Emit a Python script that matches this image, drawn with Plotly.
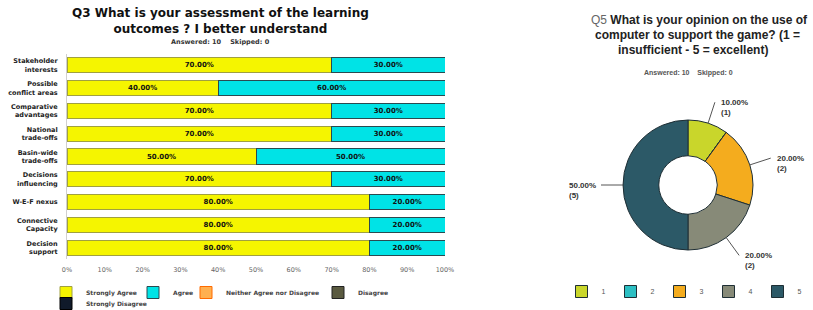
import math
import plotly.graph_objects as go

W, H = 813, 310


def px(x):
    return x / W


def py(y):
    return 1 - y / H


categories = ["Stakeholder<br>interests", "Possible<br>conflict areas", "Comparative<br>advantages",
              "National<br>trade-offs", "Basin-wide<br>trade-offs", "Decisions<br>influencing",
              "W-E-F nexus", "Connective<br>Capacity", "Decision<br>support"]
strongly_agree = [70, 40, 70, 70, 50, 70, 80, 80, 80]
agree = [30, 60, 30, 30, 50, 30, 20, 20, 20]
neither = [0, 0, 0, 0, 0, 0, 0, 0, 0]
disagree = [0, 0, 0, 0, 0, 0, 0, 0, 0]
strongly_disagree = [0, 0, 0, 0, 0, 0, 0, 0, 0]
x_ticks = [0, 10, 20, 30, 40, 50, 60, 70, 80, 90, 100]

pie_labels = ["1", "2", "3", "4", "5"]
pie_counts = [1, 0, 2, 2, 5]
pie_colors = ["#c9d62b", "#2cbfc3", "#f4ac1e", "#878a78", "#2c5967"]

BARFONT = "DejaVu Sans"
PIEFONT = "Liberation Sans"

fig = go.Figure()

series = [
    ("Strongly Agree", strongly_agree, "#f5f500", "#a0a040", "legend"),
    ("Agree", agree, "#00e3e6", "#2a4a50", "legend2"),
    ("Neither Agree nor Disagree", neither, "#ffb050", "#ff6a00", "legend4"),
    ("Disagree", disagree, "#5a5a40", "#222222", "legend5"),
    ("Strongly Disagree", strongly_disagree, "#101a2a", "#000000", "legend6"),
]
for name, vals, col, lc, lg in series:
    fig.add_trace(go.Bar(
        y=categories, x=vals, name=name, orientation="h",
        marker=dict(color=col, line=dict(color=lc, width=1)),
        text=[f"{v:.2f}%" if v > 0 else "" for v in vals],
        textposition="inside", insidetextanchor="middle", textangle=0,
        textfont=dict(family=BARFONT, size=7, color="#111111", weight="bold"),
        legend=lg, hoverinfo="skip",
    ))

# donut geometry (page pixels)
CX, CY, R = 688, 185, 65
total = sum(pie_counts)
fig.add_trace(go.Pie(
    labels=pie_labels, values=pie_counts, sort=False, direction="clockwise", rotation=0,
    hole=0.45,
    marker=dict(colors=pie_colors, line=dict(color="#1e2e34", width=1)),
    textinfo="none",
    domain=dict(x=[px(CX - R), px(CX + R)], y=[py(CY + R), py(CY - R)]),
    legend="legend3", showlegend=True, hoverinfo="label+percent",
))

legend_font = dict(family=BARFONT, size=6, color="#444444", weight="bold")


def bar_legend(x_swatch, y_top):
    return dict(orientation="h", x=px(x_swatch - 19), y=py(y_top), xanchor="left",
                yanchor="top", font=legend_font, bgcolor="rgba(0,0,0,0)")


fig.update_layout(
    width=W, height=H, margin=dict(l=0, r=0, t=0, b=0, autoexpand=False),
    paper_bgcolor="white", plot_bgcolor="white",
    barmode="stack", bargap=0.34,
    font=dict(family=BARFONT, color="#222222"),
    xaxis=dict(domain=[px(67), px(445)], range=[0, 100], tickvals=x_ticks,
               ticktext=[f"{t}%" for t in x_ticks], showgrid=False, zeroline=False,
               tickfont=dict(family=BARFONT, size=6.5, color="#666666"), ticks="",
               automargin=False, showline=False, fixedrange=True, ticklabelstandoff=5),
    yaxis=dict(domain=[py(259), py(54)], autorange="reversed", showgrid=False,
               tickfont=dict(family=BARFONT, size=6.5, color="#222222", weight="bold"),
               ticks="", automargin=False,
               showline=True, linecolor="#d0d0d0", linewidth=1, ticklabelstandoff=7),
    legend=bar_legend(65, 278),
    legend2=bar_legend(152, 278),
    legend4=bar_legend(205, 278),
    legend5=bar_legend(337, 278),
    legend6=bar_legend(65, 289),
    legend3=dict(orientation="h", x=px(684), y=py(277), xanchor="center", yanchor="top",
                 font=dict(family=PIEFONT, size=7, color="#555555"), bgcolor="rgba(0,0,0,0)"),
    showlegend=True,
)

annotations = [
    dict(text="<b>Q3 What is your assessment of the learning<br>outcomes ? I better understand</b>",
         x=px(220), y=py(21), font=dict(family=BARFONT, size=12, color="#111111")),
    dict(text="<b>Answered: 10    Skipped: 0</b>", x=px(220), y=py(42),
         font=dict(family=BARFONT, size=6.5, color="#333333")),
    dict(text="<span style='color:#666666'>Q5</span> <b>What is your opinion on the use of</b>",
         x=px(699), y=py(20), font=dict(family=PIEFONT, size=12, color="#222222")),
    dict(text="<b>computer to support the game? (1 =</b>",
         x=px(697), y=py(35), font=dict(family=PIEFONT, size=12, color="#222222")),
    dict(text="<b>insufficient - 5 = excellent)</b>",
         x=px(693), y=py(50), font=dict(family=PIEFONT, size=12, color="#222222")),
    dict(text="<b>Answered: 10    Skipped: 0</b>", x=px(688), y=py(73),
         font=dict(family=PIEFONT, size=7, color="#555555")),
]
for a in annotations:
    a.update(xref="paper", yref="paper", showarrow=False, xanchor="center", yanchor="middle")

# outside labels with leader lines, placed at each slice's mid-angle
shapes = []
cum = 0
LEAD = 22
for lab, c in zip(pie_labels, pie_counts):
    if c == 0:
        continue
    mid = (cum + c / 2) / total * 2 * math.pi
    cum += c
    sx, sy = CX + R * math.sin(mid), CY - R * math.cos(mid)
    ex, ey = CX + (R + LEAD) * math.sin(mid), CY - (R + LEAD) * math.cos(mid)
    shapes.append(dict(type="line", xref="paper", yref="paper",
                       x0=px(sx), y0=py(sy), x1=px(ex), y1=py(ey),
                       line=dict(color="#555555", width=1)))
    right = math.sin(mid) >= 0
    annotations.append(dict(
        text=f"<b>{c / total * 100:.2f}%<br>({c})</b>", xref="paper", yref="paper",
        x=px(ex + (4 if right else -3)), y=py(ey - 6), showarrow=False,
        xanchor="left" if right else "right", yanchor="top", align="left",
        font=dict(family=PIEFONT, size=8, color="#333333")))
fig.update_layout(annotations=annotations, shapes=shapes)

fig.write_html("out.html", config={"displayModeBar": False},
               post_script="document.body.style.margin='0px';")
